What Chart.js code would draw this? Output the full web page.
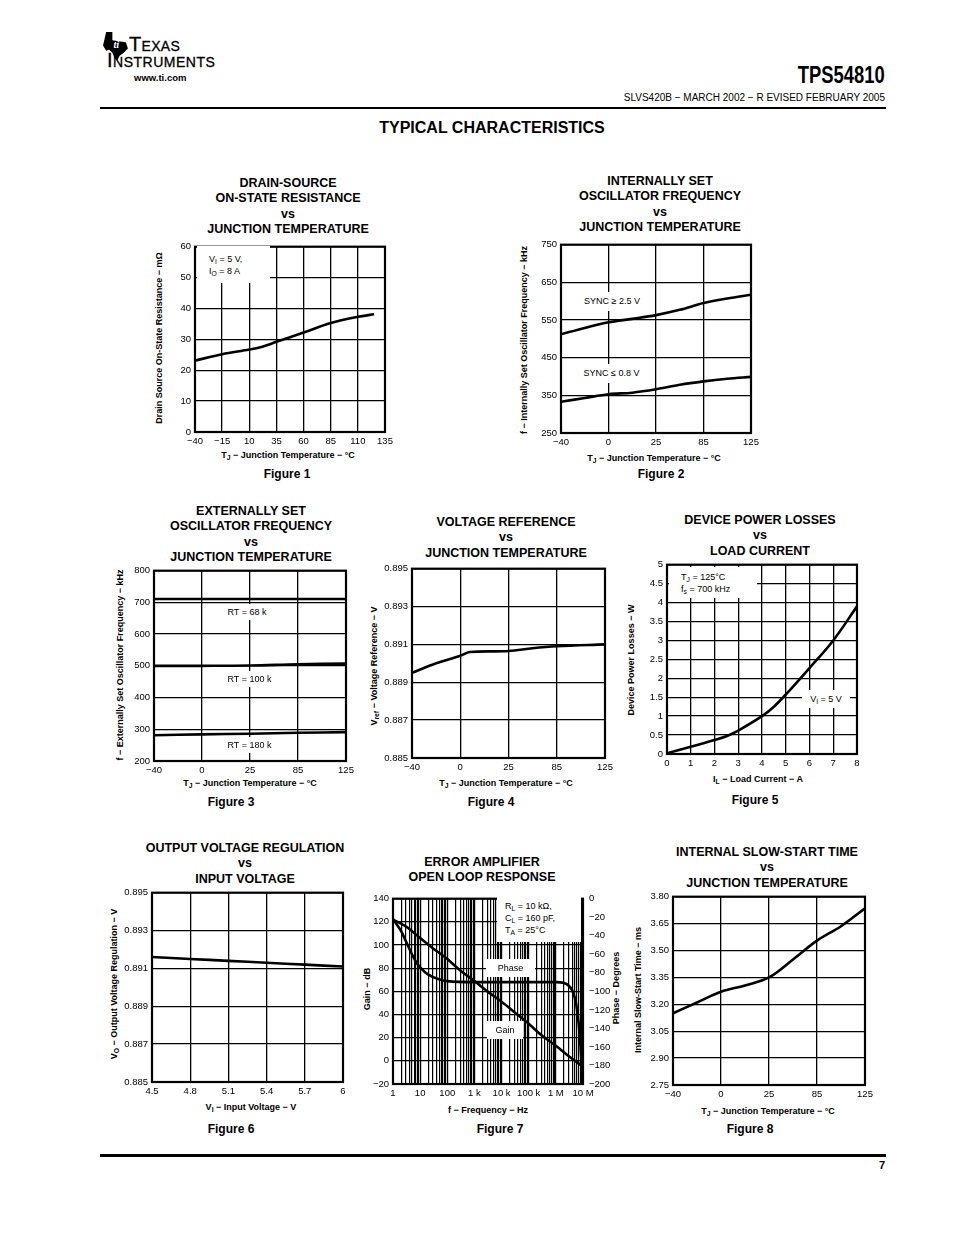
<!DOCTYPE html>
<html>
<head>
<meta charset="utf-8">
<title>TPS54810 Typical Characteristics</title>
<script src="https://cdn.jsdelivr.net/npm/chart.js@4.4.1/dist/chart.umd.min.js"></script>
<style>
  body { margin: 0; background: #fff; }
  #page { position: relative; width: 954px; height: 1235px; overflow: hidden; font-family: "Liberation Sans", Arial, Helvetica, sans-serif; color: #000; }
  #page div { position: absolute; white-space: nowrap; }
  .c { transform: translate(-50%, -50%); }
  .rot { transform: translate(-50%, -50%) rotate(-90deg); }
  .ttl { font-weight: bold; font-size: 12.5px; line-height: 15.4px; text-align: center; }
  .ax { font-weight: bold; font-size: 9px; }
  .fig { font-weight: bold; font-size: 12px; }
  .note { background: #fff; font-size: 9px; line-height: 12px; z-index: 2; box-sizing: border-box; }
  .lbl { background: #fff; font-size: 9px; z-index: 2; box-sizing: border-box; text-align: center; }
  sub { font-size: 0.75em; line-height: 0; vertical-align: -0.35em; }
  canvas { position: absolute; z-index: 1; }
</style>
</head>
<body>
<div id="page">
  <!-- header -->
  <svg style="position:absolute;left:103px;top:32px" width="26" height="28" viewBox="0 0 25 27">
    <polygon points="3,0 9,0 9,8 15,9 22,10 24,16 20,20 16,23 14,27 11,25 9,20 6,17 3,18 0,13" fill="#000"/>
    <text x="10" y="15" font-size="10" font-weight="bold" font-style="italic" fill="#fff" font-family="Liberation Serif, serif">ti</text>
  </svg>
  <div style="left:129px;top:34px;font-size:20px;font-variant:small-caps;line-height:20px;letter-spacing:0.3px;-webkit-text-stroke:0.3px #000">Texas</div>
  <div style="left:107px;top:50px;font-size:20px;font-variant:small-caps;line-height:20px;letter-spacing:0.5px;-webkit-text-stroke:0.3px #000">Instruments</div>
  <div style="left:134px;top:72px;font-size:9.5px;font-weight:bold">www.ti.com</div>
  <div style="right:69px;top:62px;font-size:23px;font-weight:bold;transform:scaleX(0.8);transform-origin:right center">TPS54810</div>
  <div style="right:69px;top:92px;font-size:10px">SLVS420B − MARCH 2002 − R EVISED FEBRUARY 2005</div>
  <div style="left:100px;top:107px;width:786px;height:2px;background:#000"></div>
  <div class="c" style="left:492px;top:128px;font-size:16px;font-weight:bold">TYPICAL CHARACTERISTICS</div>

  <!-- figure 1 -->
  <div class="c ttl" style="left:288px;top:207px">DRAIN-SOURCE<br>ON-STATE RESISTANCE<br>vs<br>JUNCTION TEMPERATURE</div>
  <div class="rot ax" style="left:159px;top:338px">Drain Source On-State Resistance − mΩ</div>
  <div class="c ax" style="left:288px;top:455px">T<sub>J</sub> − Junction Temperature − °C</div>
  <div class="note" style="left:197px;top:246px;width:73px;height:37px;padding:7px 0 0 12px">V<sub>I</sub> = 5 V,<br>I<sub>O</sub> = 8 A</div>
  <div class="c fig" style="left:287px;top:474px">Figure 1</div>

  <!-- figure 2 -->
  <div class="c ttl" style="left:660px;top:205px">INTERNALLY SET<br>OSCILLATOR FREQUENCY<br>vs<br>JUNCTION TEMPERATURE</div>
  <div class="rot ax" style="left:524px;top:340px">f − Internally Set Oscillator Frequency − kHz</div>
  <div class="c ax" style="left:654px;top:458px">T<sub>J</sub> − Junction Temperature − °C</div>
  <div class="lbl" style="left:579px;top:292px;width:66px;height:19px;line-height:19px">SYNC ≥ 2.5 V</div>
  <div class="lbl" style="left:578px;top:364px;width:67px;height:19px;line-height:19px">SYNC ≤ 0.8 V</div>
  <div class="c fig" style="left:661px;top:474px">Figure 2</div>

  <!-- figure 3 -->
  <div class="c ttl" style="left:251px;top:535px">EXTERNALLY SET<br>OSCILLATOR FREQUENCY<br>vs<br>JUNCTION TEMPERATURE</div>
  <div class="rot ax" style="left:120px;top:665px">f − Externally Set Oscillator Frequency − kHz</div>
  <div class="c ax" style="left:250px;top:783px">T<sub>J</sub> − Junction Temperature − °C</div>
  <div class="lbl" style="left:220px;top:604px;width:54px;height:16px;line-height:16px">RT = 68 k</div>
  <div class="lbl" style="left:221px;top:671px;width:57px;height:16px;line-height:16px">RT = 100 k</div>
  <div class="lbl" style="left:221px;top:737px;width:57px;height:16px;line-height:16px">RT = 180 k</div>
  <div class="c fig" style="left:231px;top:802px">Figure 3</div>

  <!-- figure 4 -->
  <div class="c ttl" style="left:506px;top:538px">VOLTAGE REFERENCE<br>vs<br>JUNCTION TEMPERATURE</div>
  <div class="rot ax" style="left:374px;top:666px">V<sub>ref</sub> − Voltage Reference − V</div>
  <div class="c ax" style="left:506px;top:783px">T<sub>J</sub> − Junction Temperature − °C</div>
  <div class="c fig" style="left:491px;top:802px">Figure 4</div>

  <!-- figure 5 -->
  <div class="c ttl" style="left:760px;top:536px">DEVICE POWER LOSSES<br>vs<br>LOAD CURRENT</div>
  <div class="rot ax" style="left:631px;top:660px">Device Power Losses − W</div>
  <div class="c ax" style="left:758px;top:779px">I<sub>L</sub> − Load Current − A</div>
  <div class="note" style="left:669px;top:567px;width:88px;height:31px;padding:4px 0 0 12px">T<sub>J</sub> = 125°C<br>f<sub>s</sub> = 700 kHz</div>
  <div class="lbl" style="left:802px;top:690px;width:48px;height:18px;line-height:18px">V<sub>I</sub> = 5 V</div>
  <div class="c fig" style="left:755px;top:800px">Figure 5</div>

  <!-- figure 6 -->
  <div class="c ttl" style="left:245px;top:864px">OUTPUT VOLTAGE REGULATION<br>vs<br>INPUT VOLTAGE</div>
  <div class="rot ax" style="left:114px;top:984px">V<sub>O</sub> − Output Voltage Regulation − V</div>
  <div class="c ax" style="left:251px;top:1107px">V<sub>I</sub> − Input Voltage − V</div>
  <div class="c fig" style="left:231px;top:1129px">Figure 6</div>

  <!-- figure 7 -->
  <div class="c ttl" style="left:482px;top:870px">ERROR AMPLIFIER<br>OPEN LOOP RESPONSE</div>
  <div class="rot ax" style="left:367px;top:989px">Gain − dB</div>
  <div class="rot ax" style="left:616px;top:988px">Phase − Degrees</div>
  <div class="c ax" style="left:488px;top:1110px">f − Frequency − Hz</div>
  <div class="note" style="left:497px;top:897px;width:84px;height:45px;padding:3px 0 0 8px">R<sub>L</sub> = 10 kΩ,<br>C<sub>L</sub> = 160 pF,<br>T<sub>A</sub> = 25°C</div>
  <div class="lbl" style="left:486px;top:959px;width:49px;height:18px;line-height:18px">Phase</div>
  <div class="lbl" style="left:487px;top:1021px;width:36px;height:18px;line-height:18px">Gain</div>
  <div class="c fig" style="left:500px;top:1129px">Figure 7</div>

  <!-- figure 8 -->
  <div class="c ttl" style="left:767px;top:868px">INTERNAL SLOW-START TIME<br>vs<br>JUNCTION TEMPERATURE</div>
  <div class="rot ax" style="left:638px;top:990px">Internal Slow-Start Time − ms</div>
  <div class="c ax" style="left:768px;top:1111px">T<sub>J</sub> − Junction Temperature − °C</div>
  <div class="c fig" style="left:750px;top:1129px">Figure 8</div>

  <!-- footer -->
  <div style="left:100px;top:1154px;width:786px;height:2.5px;background:#000"></div>
  <div style="right:69px;top:1159px;font-size:11px;font-weight:bold">7</div>
</div>

<script>
const FONT = '"Liberation Sans", Arial, Helvetica, sans-serif';
const minus = v => String(v).replace('-', '\u2212');

// temperature axes on figs 2,3,4,8 are evenly spaced labels, not to scale
const tempLabels = ['−40', '0', '25', '85', '125'];
const tempPos = [0, 1, 2, 3, 4];

// Figure 1 - drain-source on-state resistance
const fig1Temp = [-40, -15, 10, 22, 35, 60, 85, 110, 125];
const fig1Rds = [23.1, 25.2, 26.7, 27.6, 29.2, 32.2, 35.3, 37.3, 38.1];
const fig1XTicks = [-40, -15, 10, 35, 60, 85, 110, 135];
const fig1YTicks = [0, 10, 20, 30, 40, 50, 60];

// Figure 2 - internally set oscillator frequency
const fig2Pos = [0, 0.5, 1, 1.5, 2, 2.5, 3, 3.5, 4];
const fig2SyncHigh = [512, 529, 544, 553, 563, 577, 595, 607, 617];
const fig2SyncLow = [333, 343, 353, 357, 366, 378, 387, 394, 399];
const fig2YTicks = [250, 350, 450, 550, 650, 750];

// Figure 3 - externally set oscillator frequency
const fig3Rt68 = [711, 711, 711, 711, 711];
const fig3Rt100 = [500, 500, 501, 505, 507];
const fig3Rt180 = [281, 284, 286, 289, 291];
const fig3YTicks = [200, 300, 400, 500, 600, 700, 800];

// Figure 4 - voltage reference
const fig4Pos = [0, 0.5, 1, 1.2, 2, 2.5, 3, 4];
const fig4Vref = [0.8895, 0.8900, 0.8904, 0.8906, 0.89065, 0.8908, 0.8909, 0.8910];
const fig4YTicks = [0.885, 0.887, 0.889, 0.891, 0.893, 0.895];

// Figure 5 - device power losses
const fig5Load = [0, 1, 2, 2.5, 3, 4, 4.5, 5, 6, 7, 8];
const fig5Loss = [0.02, 0.19, 0.37, 0.47, 0.62, 1.0, 1.25, 1.57, 2.27, 3.0, 3.9];
const fig5XTicks = [0, 1, 2, 3, 4, 5, 6, 7, 8];
const fig5YTicks = [0, 0.5, 1, 1.5, 2, 2.5, 3, 3.5, 4, 4.5, 5];

// Figure 6 - output voltage regulation
const fig6Vin = [4.5, 4.8, 5.1, 5.4, 5.7, 6.0];
const fig6Vout = [0.8916, 0.8915, 0.8914, 0.8913, 0.8912, 0.8911];
const fig6XTicks = [4.5, 4.8, 5.1, 5.4, 5.7, 6.0];
const fig6XLabels = ['4.5', '4.8', '5.1', '5.4', '5.7', '6'];
const fig6YTicks = [0.885, 0.887, 0.889, 0.891, 0.893, 0.895];

// Figure 7 - error amplifier open loop response
const fig7GainFreq = [1, 3, 10, 30, 100, 300, 1e3, 3e3, 1e4, 3e4, 1e5, 3e5, 1e6, 3e6, 1e7];
const fig7Gain = [122, 116, 106, 97, 88, 78, 69, 60, 51, 42, 32, 22, 13, 4, -5];
const fig7PhaseFreq = [1, 2, 3, 5, 7, 10, 20, 50, 100, 1e3, 1e4, 1e5, 1e6, 2e6, 3e6, 4e6, 5e6, 6e6, 7e6, 8e6, 9e6, 1e7];
const fig7Phase = [-22, -35, -46, -60, -68, -74, -82, -87, -89, -90, -90, -90, -90, -91, -94, -99, -107, -119, -136, -157, -180, -194];
const freqDecades = [1, 10, 100, 1e3, 1e4, 1e5, 1e6, 1e7];
const freqLabels = ['1', '10', '100', '1 k', '10 k', '100 k', '1 M', '10 M'];
const gainTicks = [-20, 0, 20, 40, 60, 80, 100, 120, 140];
const phaseTicks = [-200, -180, -160, -140, -120, -100, -80, -60, -40, -20, 0];

// Figure 8 - internal slow-start time
const fig8Pos = [0, 0.5, 1, 1.5, 2, 2.5, 3, 3.5, 4];
const fig8Time = [3.15, 3.21, 3.27, 3.305, 3.35, 3.45, 3.555, 3.635, 3.735];
const fig8YTicks = [2.75, 2.90, 3.05, 3.20, 3.35, 3.50, 3.65, 3.80];

// grid lines for the log axis: 1..9 per decade
const freqGrid = [];
freqDecades.slice(0, -1).forEach(d => { for (let m = 1; m < 10; m++) freqGrid.push(m * d); });
freqGrid.push(1e7);

const frame = {
  id: 'frame',
  afterDraw(chart) {
    const a = chart.chartArea, ctx = chart.ctx;
    ctx.save();
    ctx.strokeStyle = '#000';
    ctx.lineWidth = 2.2;
    ctx.strokeRect(a.left, a.top, a.right - a.left, a.bottom - a.top);
    ctx.restore();
  }
};

function axis(ticks, fmt, extra) {
  return Object.assign({
    type: 'linear',
    min: ticks[0],
    max: ticks[ticks.length - 1],
    afterBuildTicks: s => { s.ticks = ticks.map(v => ({ value: v })); },
    grid: { color: '#000', lineWidth: 1.3, drawTicks: false },
    border: { display: false },
    ticks: {
      color: '#000', font: { family: FONT, size: 9.5 }, padding: 4,
      autoSkip: false, maxRotation: 0,
      callback: (v, i) => fmt(ticks[i], i)
    }
  }, extra || {});
}

const tempAxis = () => axis(tempPos, (v, i) => tempLabels[i]);

function pts(xs, ys) {
  return xs.map((x, i) => ({ x: x, y: ys[i] }));
}

// box = plot area [left, top, right, bottom] on the page
function makeChart(box, x, y, datasets, y1) {
  const L = 45, T = 8, B = 22, R = y1 ? 38 : 22;
  const cv = document.createElement('canvas');
  cv.width = box[2] - box[0] + L + R;
  cv.height = box[3] - box[1] + T + B;
  cv.style.left = (box[0] - L) + 'px';
  cv.style.top = (box[1] - T) + 'px';
  document.getElementById('page').appendChild(cv);
  x.afterFit = s => { s.height = B; };
  y.afterFit = s => { s.width = L; };
  const scales = { x: x, y: y };
  if (y1) {
    y1.afterFit = s => { s.width = R; };
    scales.y1 = y1;
  }
  new Chart(cv, {
    type: 'line',
    data: {
      datasets: datasets.map(d => Object.assign({
        borderColor: '#000', borderWidth: 2.6, pointRadius: 0, fill: false,
        tension: 0.35
      }, d))
    },
    options: {
      responsive: false,
      animation: false,
      devicePixelRatio: 1,
      layout: { padding: { left: 0, top: T, right: y1 ? 0 : R, bottom: 0 } },
      plugins: { legend: { display: false }, tooltip: { enabled: false } },
      scales: scales
    },
    plugins: [frame]
  });
}

// Figure 1
makeChart([195, 245, 385, 432],
  axis(fig1XTicks, v => minus(v)),
  axis(fig1YTicks, v => String(v)),
  [{ data: pts(fig1Temp, fig1Rds) }]);

// Figure 2
makeChart([561, 243, 751, 433],
  tempAxis(),
  axis(fig2YTicks, v => String(v)),
  [{ data: pts(fig2Pos, fig2SyncHigh) }, { data: pts(fig2Pos, fig2SyncLow) }]);

// Figure 3
makeChart([154, 569, 346, 761],
  tempAxis(),
  axis(fig3YTicks, v => String(v)),
  [{ data: pts(tempPos, fig3Rt68) }, { data: pts(tempPos, fig3Rt100) }, { data: pts(tempPos, fig3Rt180) }]);

// Figure 4
makeChart([412, 567, 605, 758],
  tempAxis(),
  axis(fig4YTicks, v => v.toFixed(3)),
  [{ data: pts(fig4Pos, fig4Vref) }]);

// Figure 5
makeChart([667, 563, 857, 754],
  axis(fig5XTicks, v => String(v)),
  axis(fig5YTicks, v => String(v)),
  [{ data: pts(fig5Load, fig5Loss) }]);

// Figure 6
makeChart([152, 891, 343, 1082],
  axis(fig6XTicks, (v, i) => fig6XLabels[i]),
  axis(fig6YTicks, v => v.toFixed(3)),
  [{ data: pts(fig6Vin, fig6Vout) }]);

// Figure 7
const fig7X = axis(freqGrid, v => {
  const k = freqDecades.indexOf(v);
  return k < 0 ? '' : freqLabels[k];
}, { type: 'logarithmic' });
fig7X.grid.lineWidth = 1.2;
const fig7Y1 = axis(phaseTicks, v => minus(v), { position: 'right' });
fig7Y1.grid = { display: false, drawTicks: false };
fig7Y1.ticks.padding = 6;
makeChart([393, 895, 583, 1084],
  fig7X,
  axis(gainTicks, v => minus(v)),
  [{ data: pts(fig7GainFreq, fig7Gain), yAxisID: 'y' },
   { data: pts(fig7PhaseFreq, fig7Phase), yAxisID: 'y1', tension: 0, cubicInterpolationMode: 'monotone' }],
  fig7Y1);

// Figure 8
makeChart([673, 895, 865, 1085],
  tempAxis(),
  axis(fig8YTicks, v => v.toFixed(2)),
  [{ data: pts(fig8Pos, fig8Time) }]);
</script>
</body>
</html>
